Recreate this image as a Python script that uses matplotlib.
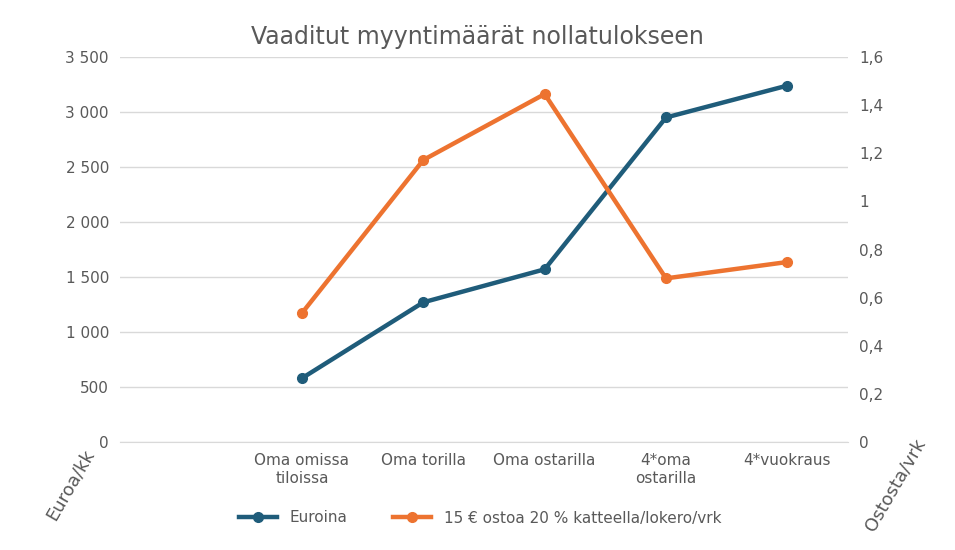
import matplotlib
matplotlib.use("Agg")
import matplotlib.pyplot as plt
import numpy as np

categories = ["", "Oma omissa\ntiloissa", "Oma torilla", "Oma ostarilla", "4*oma\nostarilla", "4*vuokraus"]
euroina = [np.nan, 580, 1270, 1570, 2950, 3240]
ostoa = [np.nan, 0.536, 1.172, 1.446, 0.68, 0.748]
left_ticks = [0, 500, 1000, 1500, 2000, 2500, 3000, 3500]
right_ticks = [0, 0.2, 0.4, 0.6, 0.8, 1, 1.2, 1.4, 1.6]

blue = "#1f5c7a"
orange = "#ed7330"
tc = "#595959"

fig = plt.figure(figsize=(9.55, 5.5), dpi=100)
ax = fig.add_axes([120/955, 1-442/550, 728/955, 385/550])
ax2 = ax.twinx()
x = np.arange(len(categories))
ax.plot(x, euroina, color=blue, lw=3.2, marker="o", ms=7, label="Euroina")
ax2.plot(x, ostoa, color=orange, lw=3.2, marker="o", ms=7, label="15 € ostoa 20 % katteella/lokero/vrk")
ax.set_xlim(-0.5, len(categories)-0.5)
ax.set_ylim(0, 3500)
ax2.set_ylim(0, 1.6)
ax.set_yticks(left_ticks)
ax.set_yticklabels([f"{v:,}".replace(",", " ") for v in left_ticks], color=tc, fontsize=11)
ax2.set_yticks(right_ticks)
ax2.set_yticklabels([f"{v:g}".replace(".", ",") for v in right_ticks], color=tc, fontsize=11)
ax.set_xticks(x)
ax.set_xticklabels(categories, color=tc, fontsize=11, va="top")
ax.grid(axis="y", color="#d9d9d9", lw=1)
ax.set_axisbelow(True)
for a in (ax, ax2):
    for s in a.spines.values():
        s.set_visible(False)
    a.tick_params(length=0, pad=8)
ax.spines["bottom"].set_visible(True)
ax.spines["bottom"].set_color("#d9d9d9")
fig.text(0.5, 1-37/550, "Vaaditut myyntimäärät nollatulokseen", ha="center", va="center", fontsize=17, color=tc)
fig.text(70/955, 1-485/550, "Euroa/kk", rotation=60, ha="center", va="center", fontsize=13, color=tc)
fig.text(895/955, 1-485/550, "Ostosta/vrk", rotation=60, ha="center", va="center", fontsize=13, color=tc)
h1, l1 = ax.get_legend_handles_labels()
h2, l2 = ax2.get_legend_handles_labels()
fig.legend(h1+h2, l1+l2, loc="center", bbox_to_anchor=(480/955, 1-518/550), ncol=2, frameon=False,
           fontsize=11, labelcolor=tc, handlelength=2.5, columnspacing=3)
fig.savefig("out.png", dpi=100)
